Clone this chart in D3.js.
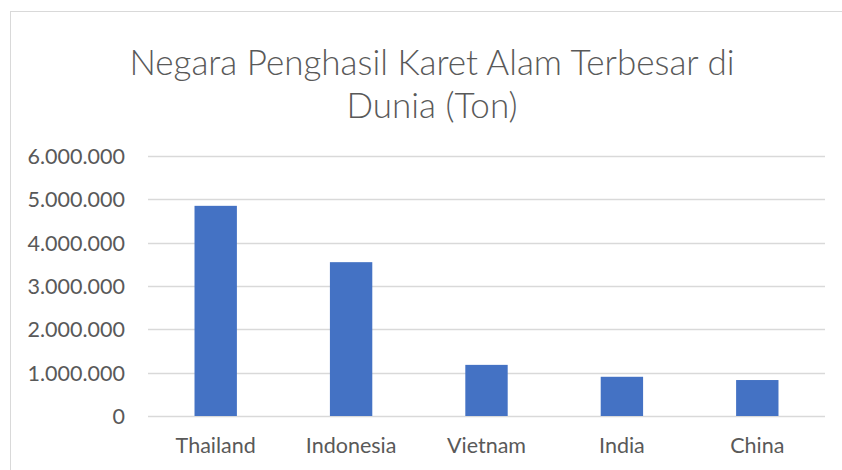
<!DOCTYPE html>
<html><head><meta charset="utf-8">
<script src="https://cdn.jsdelivr.net/npm/d3@7"></script>
<style>body{margin:0;background:#fff}svg{display:block}</style>
</head><body>
<svg id="c" width="842" height="470"></svg>
<script>
const categories = ["Thailand","Indonesia","Vietnam","India","China"];
const values = [4850000, 3550000, 1180000, 905000, 830000];
const yTicks = [0,1000000,2000000,3000000,4000000,5000000,6000000];
const titleLines = ["Negara Penghasil Karet Alam Terbesar di","Dunia (Ton)"];

const svg = d3.select("#c");
const font = "Lato, 'Open Sans', sans-serif";
svg.append("rect").attr("x",10.5).attr("y",11.5).attr("width",840).attr("height",470)
  .attr("fill","#fff").attr("stroke","#d9d9d9").attr("stroke-width",1);

const x = d3.scaleBand().domain(categories).range([148,825]).paddingInner(0.687).paddingOuter(0.3435);
const y = d3.scaleLinear().domain([0,6000000]).range([416,156]);

const fmt = d => d3.format(",")(d).replace(/,/g,".");

svg.append("g").selectAll("line").data(yTicks).join("line")
  .attr("x1",148).attr("x2",825).attr("y1",d=>Math.round(y(d))+0.5).attr("y2",d=>Math.round(y(d))+0.5)
  .attr("stroke","#d9d9d9").attr("stroke-width",1.3);

const yAxis = d3.axisLeft(y).tickValues(yTicks).tickFormat(fmt).tickSize(0).tickPadding(0);
const ga = svg.append("g").attr("transform","translate(125,0)").call(yAxis);
ga.select(".domain").remove();
ga.selectAll("text").attr("font-family",font).attr("font-size",21.5).attr("fill","#595959").attr("dy","0.35em");

svg.append("g").selectAll("rect").data(values).join("rect")
  .attr("x",(d,i)=>x(categories[i])).attr("width",x.bandwidth())
  .attr("y",d=>y(d)).attr("height",d=>y(0)-y(d)).attr("fill","#4472c4");

const xAxis = d3.axisBottom(x).tickSize(0).tickPadding(0);
const gx = svg.append("g").attr("transform","translate(0,453)").call(xAxis);
gx.select(".domain").remove();
gx.selectAll("text").attr("font-family",font).attr("font-size",21.5).attr("fill","#595959").attr("dy",0);

svg.append("g").selectAll("text").data(titleLines).join("text")
  .attr("x",432).attr("y",(d,i)=>75+i*43).attr("text-anchor","middle")
  .attr("font-family",font).attr("font-weight",300).attr("font-size",35).attr("fill","#595959")
  .text(d=>d);
</script>
</body></html>
